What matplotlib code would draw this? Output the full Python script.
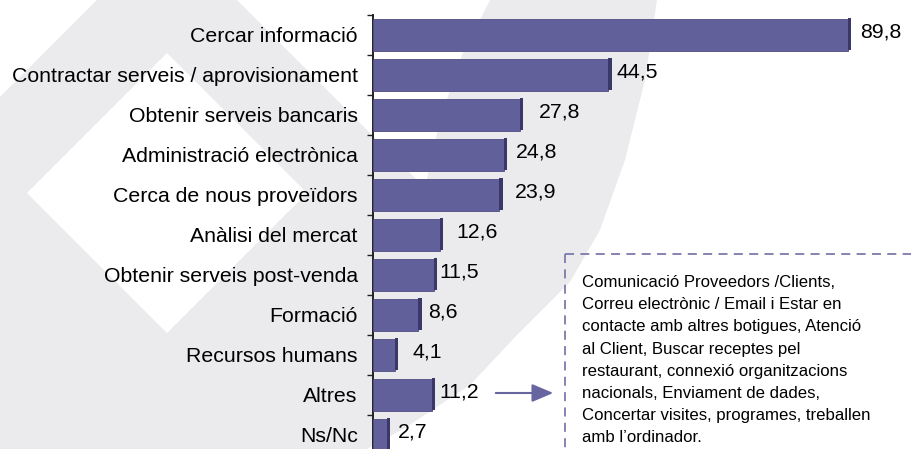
import matplotlib.pyplot as plt
from matplotlib.patches import Polygon

plt.rcParams['font.family'] = ['Liberation Sans', 'DejaVu Sans']

# Dades
categories = ["Cercar informació", "Contractar serveis / aprovisionament",
              "Obtenir serveis bancaris", "Administració electrònica",
              "Cerca de nous proveïdors", "Anàlisi del mercat",
              "Obtenir serveis post-venda", "Formació", "Recursos humans",
              "Altres", "Ns/Nc"]
valors = [89.8, 44.5, 27.8, 24.8, 23.9, 12.6, 11.5, 8.6, 4.1, 11.2, 2.7]
nota = ("Comunicació Proveedors /Clients,\n"
        "Correu electrònic / Email i Estar en\n"
        "contacte amb altres botigues, Atenció\n"
        "al Client, Buscar receptes pel\n"
        "restaurant, connexió organitzacions\n"
        "nacionals, Enviament de dades,\n"
        "Concertar visites, programes, treballen\n"
        "amb l’ordinador.")

# separacio de cada etiqueta respecte la barra (px)
sep_etiq = [12, 8, 19, 12, 15, 17, 6, 10, 18, 7, 11]

W, H = 911, 449
fig = plt.figure(figsize=(W / 100, H / 100), dpi=100)

# fons amb la marca d'aigua
fons = fig.add_axes([0, 0, 1, 1], zorder=0)
fons.set_xlim(0, W)
fons.set_ylim(H, 0)
fons.axis('off')
gris = '#ebebee'
contorn = [(97, 0), (237, 0), (425, 188), (440, 120), (462, 55), (490, 0),
           (657, 0), (645, 80), (625, 160), (600, 230), (570, 282),
           (517, 335), (470, 385), (405, 428), (367, 449), (0, 449), (0, 97)]
fons.add_patch(Polygon(contorn, closed=True, fc=gris, ec='none'))
fons.add_patch(Polygon([(167, 53), (307, 193), (167, 333), (27, 193)],
                       closed=True, fc='white', ec='none'))

# grafic
y0, y1 = 15, 15 + 40 * len(categories)
ax = fig.add_axes([373 / W, 1 - y1 / H, 529 / W, (y1 - y0) / H], zorder=2)
ax.patch.set_alpha(0)
ax.set_xlim(0, 100)
ax.set_ylim(len(categories) - 0.5, -0.5)

pos = list(range(len(categories)))
ax.barh(pos, valors, height=0.82, color='#62609a', edgecolor='#4f4c84',
        linewidth=0.6, zorder=3)
ax.barh([p - 0.03 for p in pos], [0.6] * len(valors), left=valors,
        height=0.8, color='#3a3868', zorder=3)

for i, v in enumerate(valors):
    ax.annotate(f"{v:.1f}".replace('.', ','), xy=(v, i),
                xytext=(sep_etiq[i] * 0.72, 2.2), textcoords='offset points',
                ha='left', va='center', fontsize=15.3, color='black')

ax.set_yticks(pos)
ax.set_yticklabels(categories, fontsize=15.3)
ax.tick_params(axis='y', which='major', length=0, pad=11)
ax.set_yticks([p - 0.5 for p in range(len(categories) + 1)], minor=True)
ax.tick_params(axis='y', which='minor', length=4.5, width=1, color='#222222')
ax.set_xticks([])
for s in ['top', 'right', 'bottom']:
    ax.spines[s].set_visible(False)
ax.spines['left'].set_color('#222222')
ax.spines['left'].set_linewidth(1.4)

# quadre de nota i fletxa
sup = fig.add_axes([0, 0, 1, 1], zorder=3)
sup.set_xlim(0, W)
sup.set_ylim(H, 0)
sup.axis('off')
col = '#7c79aa'
sup.plot([565, W], [254, 254], color=col, lw=1.3, ls=(0, (5, 3.5)))
sup.plot([565, 565], [254, H], color=col, lw=1.3, ls=(0, (5, 3.5)))
sup.text(582, 275, nota, fontsize=12.1, va='top', ha='left',
         linespacing=1.6, color='black')
sup.annotate('', xy=(556, 393), xytext=(493, 393),
             arrowprops=dict(arrowstyle='-|>,head_length=1.3,head_width=0.55',
                             color='#6764a0', lw=1.5))

fig.savefig('out.png', dpi=100)
